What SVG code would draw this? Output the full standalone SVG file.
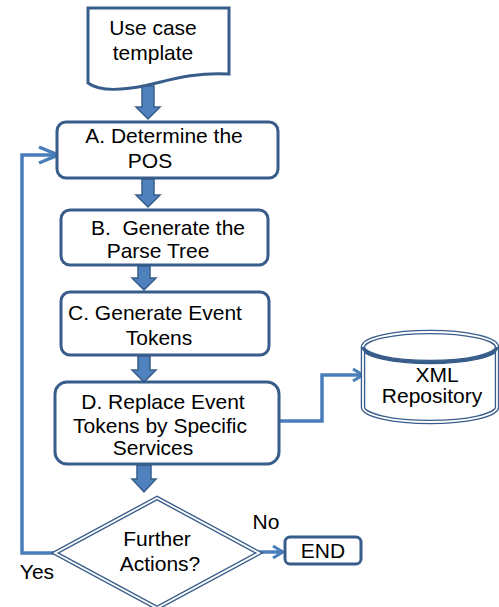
<svg xmlns="http://www.w3.org/2000/svg" width="499" height="607" viewBox="0 0 499 607">
<style>
.box{fill:#fff;stroke:#385d8a;stroke-width:3}
.t{font-family:"Liberation Sans",Arial,sans-serif;font-size:21px;fill:#000;text-anchor:middle}
.blk{fill:#4f81bd;stroke:#385d8a;stroke-width:1.5}
.ln{fill:none;stroke:#4a7ebb;stroke-width:3.5}
.dbl{fill:#fff;stroke:#385d8a;stroke-width:4.5}
.dbl2{fill:none;stroke:#fff;stroke-width:1.8}
</style>
<defs>
<marker id="big" markerUnits="userSpaceOnUse" markerWidth="24" markerHeight="24" viewBox="-2 -12 24 24" refX="17" refY="0" orient="auto">
<path d="M0,-8 L19,0 L0,8" fill="none" stroke="#4a7ebb" stroke-width="3.5"/>
</marker>
<marker id="sm" markerUnits="userSpaceOnUse" markerWidth="16" markerHeight="16" viewBox="-2 -8 16 16" refX="9" refY="0" orient="auto">
<path d="M0,-6 L10,0 L0,6" fill="none" stroke="#4a7ebb" stroke-width="3"/>
</marker>
</defs>

<g id="connectors">
<polygon class="blk" points="142,86 154,86 154,107 160,107 148,119 136,107 142,107"/>
<polygon class="blk" points="142,179 154,179 154,195 160,195 148,207 136,195 142,195"/>
<polygon class="blk" points="138,266 150,266 150,278 156,278 144,290 132,278 138,278"/>
<polygon class="blk" points="138,356 150,356 150,370 156,370 144,382 132,370 138,370"/>
<polygon class="blk" points="137,465 151,465 151,479 156,479 144,492 132,479 137,479"/>
<polyline class="ln" points="55,553 22,553 22,155 56,155" marker-end="url(#big)"/>
<polyline class="ln" points="279,421 322,421 322,375 362,375" marker-end="url(#sm)"/>
<polyline class="ln" points="259,552 282,552" marker-end="url(#sm)"/>
</g>

<g id="use-case-template">
<path class="box" d="M88,8 H229 V74 C195,72 170,80 148,85 C125,90 100,92 88,83 Z"/>
<text class="t" x="153" y="35">Use case</text>
<text class="t" x="153" y="60">template</text>
</g>

<g id="step-a">
<rect class="box" x="57" y="122" width="221" height="56" rx="9"/>
<text class="t" x="164" y="143">A. Determine the</text>
<text class="t" x="150" y="168">POS</text>
</g>

<g id="step-b">
<rect class="box" x="61" y="210" width="207" height="55" rx="9"/>
<text class="t" x="168" y="235" xml:space="preserve">B.  Generate the</text>
<text class="t" x="158" y="258">Parse Tree</text>
</g>

<g id="step-c">
<rect class="box" x="61" y="292" width="208" height="63" rx="9"/>
<text class="t" x="155" y="320">C. Generate Event</text>
<text class="t" x="159" y="345">Tokens</text>
</g>

<g id="step-d">
<rect class="box" x="55" y="382" width="224" height="82" rx="12"/>
<text class="t" x="163" y="409">D. Replace Event</text>
<text class="t" x="160" y="433">Tokens by Specific</text>
<text class="t" x="153" y="455">Services</text>
</g>

<g id="xml-repository">
<path class="dbl" d="M363,347 V407 A67,15 0 0 0 497,407 V347"/>
<ellipse class="dbl" cx="430" cy="347" rx="67" ry="15"/>
<path class="dbl2" d="M363,347 V407 A67,15 0 0 0 497,407 V347"/>
<ellipse class="dbl2" cx="430" cy="347" rx="67" ry="15"/>
<path d="M363,347 A67,15 0 0 0 497,347" fill="none" stroke="#385d8a" stroke-width="3"/>
<text class="t" x="437" y="382">XML</text>
<text class="t" x="432" y="403">Repository</text>
</g>

<g id="decision">
<polygon class="dbl" points="157,498 259,553 157,608 55,553"/>
<polygon class="dbl2" points="157,498 259,553 157,608 55,553"/>
<text class="t" x="157" y="546">Further</text>
<text class="t" x="160" y="571">Actions?</text>
</g>

<g id="end">
<rect class="box" x="285" y="537" width="76" height="27" rx="5"/>
<text class="t" x="323" y="558">END</text>
</g>

<g id="labels">
<text class="t" x="266" y="529">No</text>
<text class="t" x="37" y="579">Yes</text>
</g>
</svg>
